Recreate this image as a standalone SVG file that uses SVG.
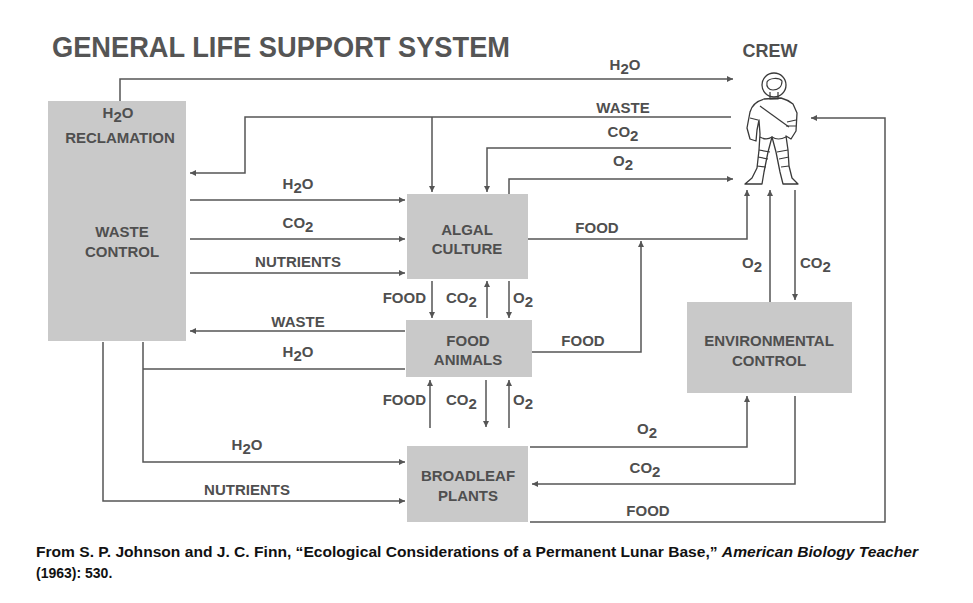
<svg xmlns="http://www.w3.org/2000/svg" width="973" height="603" viewBox="0 0 973 603">
<style>
.bg{fill:#ffffff}
.box{fill:#c9c9c9}
.lbl{font-family:"Liberation Sans",Arial,sans-serif;font-weight:bold;font-size:15px;fill:#4f4f4f;text-anchor:middle}
.lblL{font-family:"Liberation Sans",Arial,sans-serif;font-weight:bold;font-size:15px;fill:#4f4f4f;text-anchor:start}
.lblR{font-family:"Liberation Sans",Arial,sans-serif;font-weight:bold;font-size:15px;fill:#4f4f4f;text-anchor:end}
.title{font-family:"Liberation Sans",Arial,sans-serif;font-weight:bold;font-size:29px;fill:#555555}
.crewt{font-family:"Liberation Sans",Arial,sans-serif;font-weight:bold;font-size:18px;fill:#4f4f4f;text-anchor:middle}
.cap{font-family:"Liberation Sans",Arial,sans-serif;font-weight:bold;font-size:14px;fill:#111111}
.ln{fill:none;stroke:#555555;stroke-width:1.5}
.arr{fill:none;stroke:#555555;stroke-width:1.5;marker-end:url(#ah)}
.fig{fill:#ffffff;stroke:#3a3a3a;stroke-width:1.3;stroke-linejoin:round}
.figl{fill:none;stroke:#3a3a3a;stroke-width:1.2}
</style>
<defs>
<marker id="ah" viewBox="0 0 10 10" refX="10" refY="5" markerWidth="8" markerHeight="6" markerUnits="userSpaceOnUse" orient="auto">
<path d="M0,0 L10,5 L0,10 Z" fill="#555555"/>
</marker>
</defs>
<rect class="bg" x="0" y="0" width="973" height="603"/>

<text class="title" x="52" y="57" textLength="458" lengthAdjust="spacingAndGlyphs">GENERAL LIFE SUPPORT SYSTEM</text>

<g id="connectors">
  <!-- H2O to crew -->
  <path class="arr" d="M120,101 V79 H733"/>
  <!-- waste from crew -->
  <path class="arr" d="M731,117 H245 V173 H190"/>
  <path class="arr" d="M432,117 V192"/>
  <!-- CO2 from crew -->
  <path class="arr" d="M731,148 H487 V192"/>
  <!-- O2 to crew -->
  <path class="arr" d="M509,194 V179 H733"/>
  <!-- waste control to algal -->
  <path class="arr" d="M190,200 H405"/>
  <path class="arr" d="M190,239 H405"/>
  <path class="arr" d="M190,273 H405"/>
  <!-- algal <-> food animals -->
  <path class="arr" d="M432,281 V318"/>
  <path class="arr" d="M487,318 V281"/>
  <path class="arr" d="M509,281 V318"/>
  <!-- food animals to waste -->
  <path class="arr" d="M405,331 H190"/>
  <path class="ln" d="M405,369 H143"/>
  <path class="arr" d="M143,342 V462 H405"/>
  <path class="arr" d="M103,342 V501 H405"/>
  <!-- food animals <-> broadleaf -->
  <path class="arr" d="M430,428 V380"/>
  <path class="arr" d="M486,380 V427"/>
  <path class="arr" d="M509,428 V380"/>
  <!-- broadleaf <-> env -->
  <path class="arr" d="M530,447 H747 V396"/>
  <path class="arr" d="M795,396 V484 H532"/>
  <!-- broadleaf food to crew -->
  <path class="arr" d="M530,522 H885 V118 H811"/>
  <!-- algal food to crew -->
  <path class="arr" d="M528,239 H747 V190"/>
  <!-- food animals food -->
  <path class="arr" d="M532,352 H641 V241"/>
  <!-- env <-> crew -->
  <path class="arr" d="M770,302 V190"/>
  <path class="arr" d="M795,190 V300"/>
</g>

<g id="connector-labels">
  <text class="lbl" x="625" y="70">H<tspan dy="4">2</tspan><tspan dy="-4">O</tspan></text>
  <text class="lbl" x="623" y="113">WASTE</text>
  <text class="lbl" x="623" y="137">CO<tspan dy="4">2</tspan></text>
  <text class="lbl" x="623" y="166">O<tspan dy="4">2</tspan></text>

  <text class="lbl" x="298" y="189">H<tspan dy="4">2</tspan><tspan dy="-4">O</tspan></text>
  <text class="lbl" x="298" y="228">CO<tspan dy="4">2</tspan></text>
  <text class="lbl" x="298" y="267">NUTRIENTS</text>

  <text class="lblR" x="426" y="303">FOOD</text>
  <text class="lblL" x="446" y="303">CO<tspan dy="4">2</tspan></text>
  <text class="lblL" x="513" y="303">O<tspan dy="4">2</tspan></text>

  <text class="lbl" x="298" y="327">WASTE</text>
  <text class="lbl" x="298" y="357">H<tspan dy="4">2</tspan><tspan dy="-4">O</tspan></text>

  <text class="lblR" x="426" y="405">FOOD</text>
  <text class="lblL" x="446" y="405">CO<tspan dy="4">2</tspan></text>
  <text class="lblL" x="513" y="405">O<tspan dy="4">2</tspan></text>

  <text class="lbl" x="247" y="450">H<tspan dy="4">2</tspan><tspan dy="-4">O</tspan></text>
  <text class="lbl" x="247" y="495">NUTRIENTS</text>

  <text class="lbl" x="597" y="233">FOOD</text>
  <text class="lbl" x="583" y="346">FOOD</text>

  <text class="lbl" x="752" y="268">O<tspan dy="4">2</tspan></text>
  <text class="lblL" x="800" y="268">CO<tspan dy="4">2</tspan></text>

  <text class="lbl" x="647" y="434">O<tspan dy="4">2</tspan></text>
  <text class="lbl" x="645" y="473">CO<tspan dy="4">2</tspan></text>
  <text class="lbl" x="648" y="516">FOOD</text>
</g>

<g id="waste-control">
  <rect class="box" x="48" y="101" width="138" height="240"/>
  <text class="lbl" x="118" y="118">H<tspan dy="4">2</tspan><tspan dy="-4">O</tspan></text>
  <text class="lbl" x="120" y="143">RECLAMATION</text>
  <text class="lbl" x="122" y="237">WASTE</text>
  <text class="lbl" x="122" y="257">CONTROL</text>
</g>

<g id="algal-culture">
  <rect class="box" x="407" y="194" width="121" height="85"/>
  <text class="lbl" x="467" y="235">ALGAL</text>
  <text class="lbl" x="467" y="254">CULTURE</text>
</g>

<g id="food-animals">
  <rect class="box" x="406" y="320" width="126" height="57"/>
  <text class="lbl" x="468" y="346">FOOD</text>
  <text class="lbl" x="468" y="365">ANIMALS</text>
</g>

<g id="broadleaf-plants">
  <rect class="box" x="407" y="446" width="121" height="76"/>
  <text class="lbl" x="468" y="481">BROADLEAF</text>
  <text class="lbl" x="468" y="501">PLANTS</text>
</g>

<g id="environmental-control">
  <rect class="box" x="687" y="302" width="165" height="91"/>
  <text class="lbl" x="769" y="346">ENVIRONMENTAL</text>
  <text class="lbl" x="769" y="366">CONTROL</text>
</g>

<g id="crew">
  <text class="crewt" x="770" y="57">CREW</text>
  <path class="fig" d="M764,99 C757,101 752,104 750,112 L747,128 L750,139 L756,141 L757,130 L759,120 L760,134 L759,150 L757,168 L752,178 L745,184 L762,184 L764,172 L768,152 L772,137 L776,152 L780,172 L783,184 L798,184 L792,178 L789,166 L788,150 L786,136 L791,139 L796,131 L797,113 L793,104 C789,101 785,99 781,98 Z"/>
  <circle class="fig" cx="774" cy="85" r="12"/>
  <path class="figl" d="M767,82 C769,78 779,77 782,81 C782,87 778,90 773,90 C769,90 766,87 767,82 Z"/>
  <path class="figl" d="M770,92 L770,99 L778,99 L778,92"/>
  <path class="figl" d="M760,106 L789,127"/>
  <path class="figl" d="M750,118 L758,120 M787,122 L796,120 M786,126 L796,126"/>
  <path class="figl" d="M759,150 L770,152 M777,152 L788,150 M758,157 L768,159 M779,159 L789,157 M757,166 L766,167 M781,167 L789,166"/>
  <path class="figl" d="M760,137 C765,140 769,139 772,137 C775,139 780,140 786,137"/>
</g>

<g id="caption">
  <text class="cap" x="36" y="557" textLength="882" lengthAdjust="spacingAndGlyphs">From S. P. Johnson and J. C. Finn, “Ecological Considerations of a Permanent Lunar Base,” <tspan font-style="italic">American Biology Teacher</tspan></text>
  <text class="cap" x="36" y="578">(1963): 530.</text>
</g>
</svg>
